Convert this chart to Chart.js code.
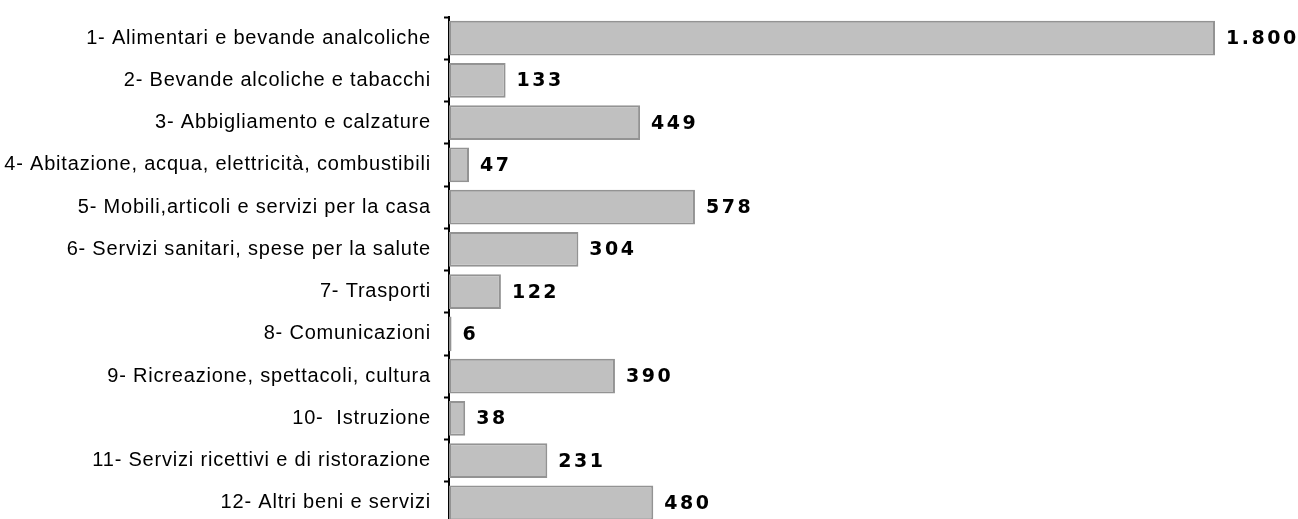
<!DOCTYPE html>
<html>
<head>
<meta charset="utf-8">
<script src="https://cdn.jsdelivr.net/npm/chart.js@4"></script>
<style>
html, body { margin: 0; padding: 0; background: #fff; overflow: hidden; }
</style>
</head>
<body>
<canvas id="myChart" width="1298" height="525"></canvas>
<script>
var voci = [
    '1- Alimentari e bevande analcoliche',
    '2- Bevande alcoliche e tabacchi',
    '3- Abbigliamento e calzature',
    '4- Abitazione, acqua, elettricità, combustibili',
    '5- Mobili,articoli e servizi per la casa',
    '6- Servizi sanitari, spese per la salute',
    '7- Trasporti',
    '8- Comunicazioni',
    '9- Ricreazione, spettacoli, cultura',
    '10-  Istruzione',
    '11- Servizi ricettivi e di ristorazione',
    '12- Altri beni e servizi'
];
var valori = [1800, 133, 449, 47, 578, 304, 122, 6, 390, 38, 231, 480];
var scalaMax = 1800;

function formatta(n) {
    return String(n).replace(/\B(?=(\d{3})+(?!\d))/g, '.');
}

// spaziatura delle lettere come nell'originale
var spaziatura = {
    id: 'spaziatura',
    beforeLayout: function(chart) { chart.ctx.letterSpacing = '0.8px'; },
    beforeDraw: function(chart) { chart.ctx.letterSpacing = '0.8px'; }
};

var etichette = {
    id: 'etichette',
    afterDatasetsDraw: function(chart) {
        var ctx = chart.ctx;
        var meta = chart.getDatasetMeta(0);
        ctx.save();
        ctx.font = 'bold 19px "DejaVu Sans"';
        ctx.letterSpacing = '2.5px';
        ctx.fillStyle = '#000';
        ctx.textAlign = 'left';
        ctx.textBaseline = 'middle';
        meta.data.forEach(function(bar, i) {
            ctx.fillText(formatta(valori[i]), bar.x + 11, bar.y + 1);
        });
        ctx.restore();
    }
};

var myChart = document.getElementById('myChart').getContext('2d');
var chart = new Chart(myChart, {
    type: 'bar',
    data: {
        labels: voci,
        datasets: [{
            data: valori,
            backgroundColor: '#c0c0c0',
            borderColor: '#939393',
            borderWidth: 2,
            borderSkipped: false,
            barPercentage: 0.82,
            categoryPercentage: 1
        }]
    },
    options: {
        indexAxis: 'y',
        responsive: false,
        animation: false,
        devicePixelRatio: 1,
        layout: {
            padding: { top: 17, right: 83, bottom: 1, left: 0 }
        },
        plugins: {
            legend: { display: false },
            tooltip: { enabled: false }
        },
        scales: {
            x: {
                display: false,
                min: 0,
                max: scalaMax
            },
            y: {
                afterFit: function(scale) {
                    scale.width = 449;
                    scale.paddingTop = 0;
                    scale.paddingBottom = 0;
                },
                border: { display: true, color: '#000', width: 2 },
                grid: {
                    display: true,
                    drawOnChartArea: false,
                    drawTicks: true,
                    tickLength: 5,
                    tickWidth: 2,
                    tickColor: '#000',
                    offset: true
                },
                ticks: {
                    color: '#000',
                    padding: 13,
                    font: { family: '"Liberation Sans", Arial, sans-serif', size: 20 }
                }
            }
        }
    },
    plugins: [spaziatura, etichette]
});
</script>
</body>
</html>
